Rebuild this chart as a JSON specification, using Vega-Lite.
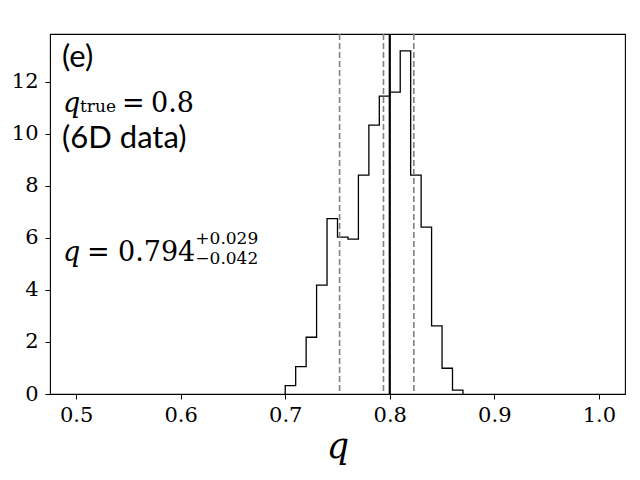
{
  "$schema": "https://vega.github.io/schema/vega-lite/v6.json",
  "width": 575,
  "height": 360,
  "autosize": "none",
  "padding": {"left": 50, "top": 34, "right": 15, "bottom": 86},
  "background": "white",
  "data": {"values": [{}]},
  "datasets": {
    "hist": [
      {"q": 0.70, "density": 0},
      {"q": 0.70, "density": 0.32},
      {"q": 0.71, "density": 1.05},
      {"q": 0.72, "density": 2.18},
      {"q": 0.73, "density": 4.18},
      {"q": 0.74, "density": 6.74},
      {"q": 0.75, "density": 6.03},
      {"q": 0.76, "density": 5.95},
      {"q": 0.77, "density": 8.41},
      {"q": 0.78, "density": 10.33},
      {"q": 0.79, "density": 11.44},
      {"q": 0.80, "density": 11.6},
      {"q": 0.81, "density": 13.18},
      {"q": 0.82, "density": 8.41},
      {"q": 0.83, "density": 6.41},
      {"q": 0.84, "density": 2.62},
      {"q": 0.85, "density": 0.99},
      {"q": 0.86, "density": 0.15},
      {"q": 0.87, "density": 0}
    ],
    "bounds": [
      {"q": 0.752},
      {"q": 0.794},
      {"q": 0.823}
    ]
  },
  "layer": [
    {
      "data": {"name": "hist"},
      "mark": {"type": "line", "interpolate": "step-after", "color": "black", "strokeWidth": 1.3},
      "encoding": {
        "x": {
          "field": "q",
          "type": "quantitative",
          "scale": {"domain": [0.475, 1.025], "nice": false, "zero": false},
          "axis": {"values": [0.5, 0.6, 0.7, 0.8, 0.9, 1.0], "format": ".1f", "title": "q"}
        },
        "y": {
          "field": "density",
          "type": "quantitative",
          "scale": {"domain": [0, 13.83], "nice": false},
          "axis": {"values": [0, 2, 4, 6, 8, 10, 12], "title": null}
        },
        "order": {"value": null}
      }
    },
    {
      "data": {"name": "bounds"},
      "mark": {"type": "rule", "color": "#808080", "strokeWidth": 1.6, "strokeDash": [6, 3]},
      "encoding": {"x": {"field": "q", "type": "quantitative"}}
    },
    {
      "mark": {"type": "rule", "color": "black", "strokeWidth": 2.2},
      "encoding": {"x": {"datum": 0.8}}
    },
    {
      "mark": {"type": "text", "text": "(e)", "font": "Lato", "fontSize": 31, "align": "left", "baseline": "alphabetic", "color": "black"},
      "encoding": {"x": {"datum": 0.4865}, "y": {"datum": 12.57}}
    },
    {
      "mark": {"type": "text", "text": "(6D data)", "font": "Lato", "fontSize": 31, "align": "left", "baseline": "alphabetic", "color": "black"},
      "encoding": {"x": {"datum": 0.4865}, "y": {"datum": 9.45}}
    },
    {
      "mark": {"type": "text", "text": "q", "font": "DejaVu Serif", "fontStyle": "italic", "fontSize": 27, "align": "left", "baseline": "alphabetic", "color": "black"},
      "encoding": {"x": {"datum": 0.4874}, "y": {"datum": 10.83}}
    },
    {
      "mark": {"type": "text", "text": "true", "font": "DejaVu Serif", "fontSize": 17, "align": "left", "baseline": "alphabetic", "color": "black"},
      "encoding": {"x": {"datum": 0.5037}, "y": {"datum": 10.83}}
    },
    {
      "mark": {"type": "text", "text": "=", "font": "DejaVu Serif", "fontSize": 27, "align": "left", "baseline": "alphabetic", "color": "black"},
      "encoding": {"x": {"datum": 0.5439}, "y": {"datum": 10.83}}
    },
    {
      "mark": {"type": "text", "text": "0.8", "font": "DejaVu Serif", "fontSize": 27, "align": "left", "baseline": "alphabetic", "color": "black"},
      "encoding": {"x": {"datum": 0.5716}, "y": {"datum": 10.83}}
    },
    {
      "mark": {"type": "text", "text": "q", "font": "DejaVu Serif", "fontStyle": "italic", "fontSize": 27, "align": "left", "baseline": "alphabetic", "color": "black"},
      "encoding": {"x": {"datum": 0.4874}, "y": {"datum": 5.1}}
    },
    {
      "mark": {"type": "text", "text": "=", "font": "DejaVu Serif", "fontSize": 27, "align": "left", "baseline": "alphabetic", "color": "black"},
      "encoding": {"x": {"datum": 0.5104}, "y": {"datum": 5.1}}
    },
    {
      "mark": {"type": "text", "text": "0.794", "font": "DejaVu Serif", "fontSize": 27, "align": "left", "baseline": "alphabetic", "color": "black"},
      "encoding": {"x": {"datum": 0.540}, "y": {"datum": 5.1}}
    },
    {
      "mark": {"type": "text", "text": "+0.029", "font": "DejaVu Serif", "fontSize": 17, "align": "left", "baseline": "alphabetic", "color": "black"},
      "encoding": {"x": {"datum": 0.6140}, "y": {"datum": 5.76}}
    },
    {
      "mark": {"type": "text", "text": "−0.042", "font": "DejaVu Serif", "fontSize": 17, "align": "left", "baseline": "alphabetic", "color": "black"},
      "encoding": {"x": {"datum": 0.6140}, "y": {"datum": 4.98}}
    }
  ],
  "config": {
    "view": {"stroke": "black", "strokeWidth": 1.1},
    "axis": {
      "domain": false,
      "grid": false,
      "tickColor": "black",
      "tickSize": 5,
      "tickWidth": 1,
      "labelFont": "DejaVu Serif",
      "labelFontSize": 21,
      "labelColor": "black",
      "labelPadding": 5,
      "titleFont": "DejaVu Serif",
      "titleFontStyle": "italic",
      "titleFontWeight": "normal",
      "titleFontSize": 35,
      "titleColor": "black",
      "titlePadding": 4
    },
    "axisY": {"labelPadding": 7}
  }
}
